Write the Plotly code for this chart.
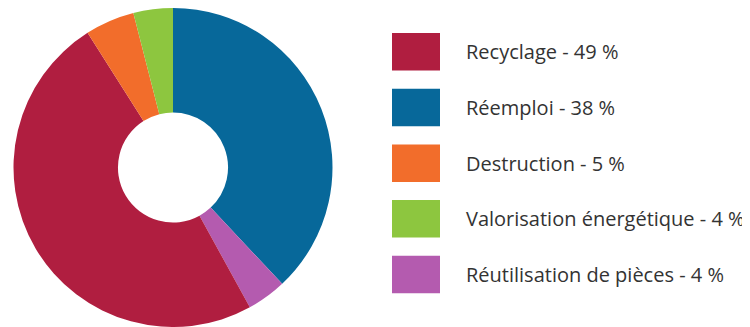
import plotly.graph_objects as go

# Data (legend order)
labels = ["Recyclage", "Réemploi", "Destruction", "Valorisation énergétique", "Réutilisation de pièces"]
values = [49, 38, 5, 4, 4]
colors = ["#B01E40", "#07689A", "#F26D2B", "#8DC63F", "#B45BAF"]

# Clockwise slice order starting at 12 o'clock
pie_order = ["Réemploi", "Réutilisation de pièces", "Recyclage", "Destruction", "Valorisation énergétique"]

# page has an 8px body margin; size the figure so it fits the window
OFF = 8
W, H = 750 - OFF, 327 - OFF
idx = [labels.index(l) for l in pie_order]

fig = go.Figure()
fig.add_trace(go.Pie(
    labels=[labels[i] for i in idx],
    values=[values[i] for i in idx],
    marker=dict(colors=[colors[i] for i in idx], line=dict(width=0)),
    hole=0.345,
    sort=False,
    direction="clockwise",
    rotation=0,
    textinfo="none",
    hoverinfo="label+percent",
    showlegend=False,
    domain=dict(x=[(13.5 - OFF) / W, (332.5 - OFF) / W], y=[0, 1]),
))

# Manual legend with large colour swatches (screen pixel coords)
sw_x0, sw_x1 = 392, 440
top0, step, sh = 33, 55.7, 37.5
text_x = 464
shapes, annotations = [], []
for i, (lab, val, col) in enumerate(zip(labels, values, colors)):
    t = top0 + i * step - OFF
    shapes.append(dict(type="rect", xref="paper", yref="paper",
                       x0=(sw_x0 - OFF) / W, x1=(sw_x1 - OFF) / W,
                       y0=1 - (t + sh) / H, y1=1 - t / H,
                       fillcolor=col, line=dict(width=0)))
    annotations.append(dict(xref="paper", yref="paper",
                            x=(text_x - OFF) / W, y=1 - (t + sh / 2) / H,
                            xanchor="left", yanchor="middle",
                            text=f"{lab} - {val} %", showarrow=False,
                            font=dict(family="Open Sans", size=20, color="#333333")))

fig.update_layout(
    width=W, height=H,
    margin=dict(l=0, r=0, t=0, b=0),
    paper_bgcolor="white", plot_bgcolor="white",
    shapes=shapes, annotations=annotations,
)

fig.write_html("out.html")
